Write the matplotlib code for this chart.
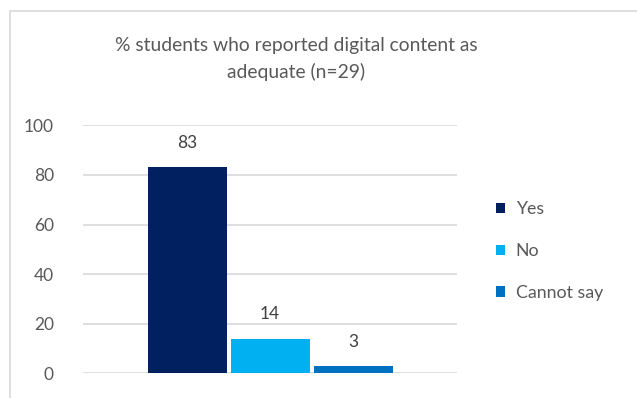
import matplotlib
matplotlib.use("Agg")
import matplotlib.pyplot as plt
from matplotlib.patches import Rectangle

plt.rcParams['font.family'] = ['Lato', 'DejaVu Sans']

categories = ["Yes", "No", "Cannot say"]
values = [83, 14, 3]
colors = ["#002060", "#00B0F0", "#0070C0"]
yticks = [0, 20, 40, 60, 80, 100]
title = "% students who reported digital content as\nadequate (n=29)"

text_color = "#595959"
grid_color = "#D9D9D9"

W, H = 637, 398
fig = plt.figure(figsize=(W / 100, H / 100), dpi=100)

# outer chart frame
fig.patches.append(Rectangle((10 / W, -0.05), 1.1, (H - 11) / H + 0.05,
                             transform=fig.transFigure, fill=False,
                             edgecolor="#D9D9D9", linewidth=1.2))

ax = fig.add_axes([83 / W, 1 - 373.3 / H, (457 - 83) / W, (373.3 - 125.3) / H])

unit = 83.0
half = (457 - 83) / 2 / unit
positions = [-1, 0, 1]
bars = ax.bar(positions, values, width=79 / unit, color=colors, label=categories,
              zorder=3)
for x, v in zip(positions, values):
    ax.annotate(f"{v}", (x, v), xytext=(0, 17.5), textcoords="offset points",
                ha="center", va="center", fontsize=12.5, color="#404040")

ax.set_xlim(-half, half)
ax.set_ylim(0, 100)
ax.set_yticks(yticks)
ax.set_xticks([])
ax.yaxis.grid(True, color=grid_color, linewidth=1.2, zorder=0)
for s in ax.spines.values():
    s.set_visible(False)
ax.tick_params(axis="y", length=0, pad=21, labelsize=12.5, labelcolor=text_color)

fig.text(296 / W, 1 - 59 / H, title, ha="center", va="center", fontsize=13.9,
         color=text_color, linespacing=1.55)

leg = fig.legend(handles=bars, labels=categories, loc="center left",
                 bbox_to_anchor=(480 / W, 1 - 251 / H), frameon=False,
                 fontsize=12.8, labelcolor=text_color, handlelength=0.5,
                 handleheight=0.5, handletextpad=0.6, labelspacing=1.45)

fig.savefig("out.png", dpi=100, facecolor="white")
